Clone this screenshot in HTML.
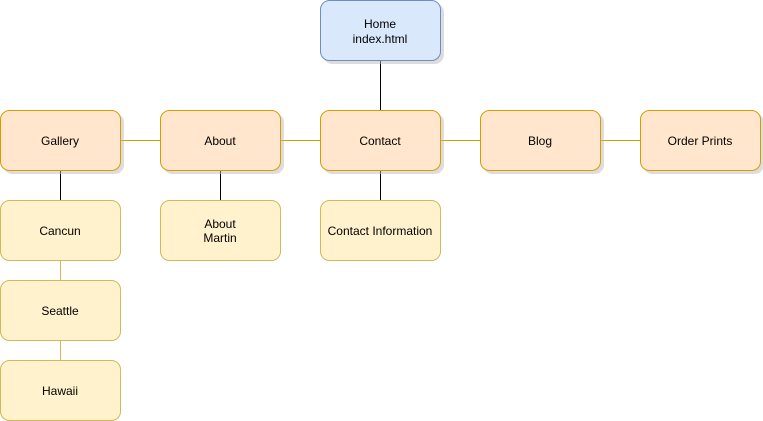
<!DOCTYPE html>
<html><head><style>body{margin:0;background:#fff}svg{display:block}text{font-family:"Liberation Sans",Helvetica,sans-serif;font-size:12px;fill:#000;text-anchor:middle}</style></head>
<body>
<svg width="763" height="421" viewBox="0 0 763 421" xmlns="http://www.w3.org/2000/svg">
<defs><filter id="s" x="-10%" y="-10%" width="130%" height="130%"><feOffset dx="3" dy="3" in="SourceAlpha"/><feColorMatrix values="0 0 0 0 0.5 0 0 0 0 0.5 0 0 0 0 0.5 0 0 0 0.5 0"/><feMerge><feMergeNode/><feMergeNode in="SourceGraphic"/></feMerge></filter></defs>
<g stroke-width="1" fill="none">
<line x1="380.5" y1="60" x2="380.5" y2="110" stroke="#000"/>
<line x1="120" y1="140.5" x2="640" y2="140.5" stroke="#d79b00"/>
<line x1="60.5" y1="170" x2="60.5" y2="200" stroke="#000"/>
<line x1="220.5" y1="170" x2="220.5" y2="200" stroke="#000"/>
<line x1="380.5" y1="170" x2="380.5" y2="200" stroke="#000"/>
<line x1="60.5" y1="260" x2="60.5" y2="280" stroke="#d6b656"/>
<line x1="60.5" y1="340" x2="60.5" y2="360" stroke="#d6b656"/>
</g>
<g filter="url(#s)">
<rect x="320.5" y="0.5" width="120" height="60" rx="9" fill="#dae8fc" stroke="#6c8ebf"/>
<rect x="0.5" y="110.5" width="120" height="60" rx="9" fill="#ffe6cc" stroke="#d79b00"/>
<rect x="160.5" y="110.5" width="120" height="60" rx="9" fill="#ffe6cc" stroke="#d79b00"/>
<rect x="320.5" y="110.5" width="120" height="60" rx="9" fill="#ffe6cc" stroke="#d79b00"/>
<rect x="480.5" y="110.5" width="120" height="60" rx="9" fill="#ffe6cc" stroke="#d79b00"/>
<rect x="640.5" y="110.5" width="120" height="60" rx="9" fill="#ffe6cc" stroke="#d79b00"/>
</g>
<g fill="#fff2cc" stroke="#d6b656">
<rect x="0.5" y="200.5" width="120" height="60" rx="9"/>
<rect x="160.5" y="200.5" width="120" height="60" rx="9"/>
<rect x="320.5" y="200.5" width="120" height="60" rx="9"/>
<rect x="0.5" y="280.5" width="120" height="60" rx="9"/>
<rect x="0.5" y="360.5" width="120" height="60" rx="9"/>
</g>
<text x="380" y="28">Home</text><text x="380" y="43">index.html</text>
<text x="60" y="145">Gallery</text>
<text x="220" y="145">About</text>
<text x="380" y="145">Contact</text>
<text x="540" y="145">Blog</text>
<text x="700" y="145">Order Prints</text>
<text x="60" y="235">Cancun</text>
<text x="220" y="228">About</text><text x="220" y="242">Martin</text>
<text x="380" y="235">Contact Information</text>
<text x="60" y="315">Seattle</text>
<text x="60" y="395">Hawaii</text>
</svg>
</body></html>
